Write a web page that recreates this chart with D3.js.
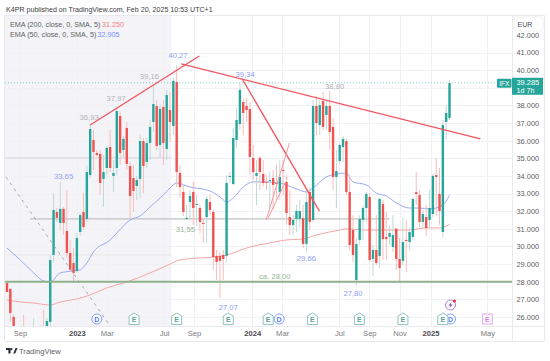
<!DOCTYPE html>
<html><head><meta charset="utf-8">
<script src="https://cdn.jsdelivr.net/npm/d3@7/dist/d3.min.js"></script>
<style>
html,body{margin:0;padding:0;background:#fff;overflow:hidden}
svg{display:block}
text{font-family:"Liberation Sans",Roboto,Arial,sans-serif}
</style></head><body>
<svg id="c" width="550" height="361"></svg>
<script>
// ----- weekly candles (EUR)
const opens=[27.93,27.59,26.0,24.8,24.2,25.0,24.4,24.0,24.0,24.5,24.2,25.1,24.98,25.72,29.52,31.96,31.33,32.13,30.88,29.63,
29.06,28.61,30.82,31.96,31.56,34.05,36.04,35.30,35.25,33.83,34.45,35.64,34.0,34.45,37.40,35.47,36.72,34.56,33.88,33.43,
33.83,35.98,34.79,35.87,37.06,37.97,35.76,37.91,35.53,37.74,36.83,39.33,34.17,33.09,31.55,32.52,33.09,32.35,32.18,31.33,
31.67,32.52,31.96,29.46,29.46,29.52,29.46,33.94,33.54,36.04,36.95,38.19,37.97,37.80,35.02,34.0,35.02,34.11,33.66,33.71,
33.88,33.60,33.09,34.34,33.66,31.67,31.22,31.56,31.56,31.61,30.14,33.09,31.50,37.97,36.89,38.25,37.46,37.97,36.78,33.94,
34.85,35.64,35.98,33.09,30.93,28.10,30.37,31.50,32.18,32.81,29.29,29.80,29.46,32.41,30.54,30.54,29.97,31.01,29.29,29.18,
30.37,30.25,30.54,33.09,32.92,31.39,31.67,31.50,31.84,34.05,32.98,30.82,37.06,37.29];
const highs=[28.04,27.65,26.17,25.2,25.0,26.11,25.1,25.2,25.94,25.0,25.55,26.40,25.9,29.52,33.03,32.18,33.65,32.24,33.20,30.37,
29.91,30.76,31.90,33.03,34.62,36.93,36.61,35.47,35.47,35.19,35.70,36.61,34.90,37.97,37.63,36.27,37.06,34.79,34.62,34.0,
36.38,36.15,36.15,37.17,39.16,38.31,38.08,38.31,38.88,38.76,39.56,40.27,34.62,33.49,32.35,33.20,33.66,32.92,32.35,31.61,
32.86,32.92,32.07,29.80,29.69,29.80,34.05,34.22,36.72,37.85,39.34,38.42,38.42,38.19,35.76,34.90,35.13,34.90,34.05,34.22,
34.34,34.62,34.90,34.90,34.05,33.20,31.78,32.35,32.64,32.35,33.20,33.32,38.31,38.53,38.31,38.76,38.31,38.80,37.29,35.47,
35.87,36.27,36.15,34.05,31.78,30.48,31.78,32.35,33.09,33.03,30.08,31.78,32.75,32.64,31.96,31.22,31.78,31.05,30.48,31.61,
31.50,31.05,32.81,34.22,33.20,32.07,32.35,33.20,34.11,35.02,34.45,37.17,38.02,39.44];
const lows=[27.42,25.72,24.70,23.8,23.9,24.2,23.7,23.6,23.8,23.9,23.9,24.4,24.8,25.26,29.12,31.39,30.93,30.65,29.35,28.55,
27.93,28.50,30.59,30.93,31.39,33.88,34.34,35.13,32.92,32.24,34.05,34.22,33.09,34.05,34.62,35.02,34.34,31.61,31.96,32.64,
32.75,33.03,34.45,34.90,36.49,35.47,35.02,34.62,34.90,35.93,36.32,33.37,32.75,31.73,31.55,31.61,31.22,31.16,30.76,30.20,
30.20,31.78,28.67,28.10,27.07,28.10,29.12,33.60,33.49,35.59,36.61,36.32,37.06,34.05,33.77,32.35,33.20,33.43,33.20,32.18,
32.07,32.64,32.64,32.92,31.22,30.65,30.65,30.82,31.05,29.91,29.66,30.93,31.39,36.32,36.32,36.61,36.61,35.47,33.20,32.18,
34.62,34.79,32.92,29.80,29.12,27.80,30.08,30.37,31.39,29.12,28.33,28.95,28.78,29.23,29.23,30.08,29.69,28.67,28.04,28.95,
28.55,29.80,30.37,32.35,31.10,31.05,30.59,31.05,31.67,31.73,31.22,30.54,36.04,37.17];
const closes=[27.42,26.23,25.26,24.2,24.6,24.4,24.0,24.4,24.5,24.1,24.8,24.6,25.77,29.23,32.07,31.62,32.13,31.33,29.63,28.67,
28.50,30.48,31.78,31.10,34.22,36.66,35.36,35.19,33.60,34.22,35.59,34.45,34.17,37.68,35.30,36.10,34.68,32.86,33.15,33.77,
35.98,34.56,35.87,36.78,38.08,35.70,37.80,35.87,38.59,37.06,39.39,34.22,33.37,31.96,31.62,32.86,32.18,32.41,31.39,31.27,
32.69,32.07,29.40,29.12,29.18,29.29,33.60,34.0,36.15,37.17,38.88,37.57,37.74,35.08,34.22,34.17,34.22,33.60,33.60,33.77,
33.49,33.54,33.94,34.28,31.90,31.22,31.50,32.01,32.01,30.14,32.52,31.39,37.97,37.0,38.02,36.78,37.97,36.49,33.94,34.28,
35.76,36.10,33.09,30.08,29.52,30.14,31.56,32.18,32.98,29.23,29.80,29.06,32.69,30.42,30.42,30.76,30.65,29.29,28.78,30.25,
30.31,30.82,32.69,32.98,31.39,31.84,31.05,32.18,34.0,33.94,32.01,36.89,37.57,39.27];

// ----- moving averages: values read at these bars
const ema50Bars=[0,4,8,11,13,16,20,22,24,26,31,33,37,40,43,47,49,51,55,61,64,66,68,71,74,77,82,87,90,92,96,99,102,104,108,111,114,117,121,124,127,131,133];
const ema50Vals=[29.91,29.23,28.50,28.04,27.98,28.50,28.61,28.67,29.06,29.69,30.37,30.76,31.50,31.73,32.24,32.92,33.32,33.60,33.37,33.15,32.81,32.52,32.75,33.37,33.66,33.66,33.60,33.26,33.09,33.32,33.94,34.11,34.17,33.66,33.49,33.03,32.86,32.47,32.18,32.18,32.13,32.35,32.91];
const ema200Bars=[0,4,8,13,16,21,25,30,36,43,49,51,54,62,66,73,79,84,89,93,100,102,107,115,121,126,130,133];
const ema200Vals=[26.96,26.85,26.79,26.68,26.85,27.02,27.25,27.65,27.98,28.50,29.0,29.18,29.29,29.40,29.52,29.97,30.20,30.37,30.42,30.65,30.93,31.0,30.93,30.93,30.93,31.05,31.05,31.25];

// ----- axes
const priceTicks=[42,41,40,39,38,37,36,35,34,33,32,31,30,29,28,27,26];
const hiddenPriceLabel=39; // covered by the last-price tag
const timeBars=[3.9,21,30,47.2,56.2,73.7,82.7,99.9,108.9,118,127.3,144.4];
const timeLabels=["Sep","2023","Mar","Jul","Sep","2024","Mar","Jul","Sep","Nov","2025","May"];
const boldLabels=["2023","2024","2025"];

// ----- drawings: [bar1, price1, bar2, price2]
const redLines=[[25,36.89,57.8,40.80],[52.4,40.35,142.3,36.10],[70.7,39.50,93.9,32.0]];
const paleLines=[[77.9,31.50,84.9,35.87],[78.5,31.61,83.7,33.66]];
const dashLine=[-0.3,33.94,31,25.49];
// horizontal levels: [price, bar1, bar2]
const grayLevels=[[35.02,-0.6,49.4],[29.52,-0.6,49.4]];
const supportLevel=[31.56,6.9,115];
const greenLevel=[28.0,-0.6,149];
const lastPrice=39.285;

// ----- notes: [text, bar, price, kind]
const notes=[["36,93",24.7,37.34,"g"],["37,97",32.8,38.42,"g"],["39,16",42.8,39.67,"g"],["40,27",51.4,40.86,"b"],["33,65",17,34.0,"b"],
["39,34",71.6,39.78,"b"],["38,80",98.5,39.1,"g"],["31,55",53.6,31.0,"v"],["29,66",90,29.35,"b"],["27,07",66.5,26.57,"b"],["27,80",104,27.36,"b"],["ca. 28,00",80.5,28.3,"v"]];

// ----- events on the time axis
const earningsBars=[38.2,51,66.5,78.5,91.8,105.9,119,131];
const dividendBars=[27,81.8,133.3];
const futureEarningsBar=144.4;
const flashBar=133.3;

// ----- header texts
const headerText="K4PR published on TradingView.com, Feb 20, 2025 10:53 UTC+1";
const legendRows=[["EMA (200, close, 0, SMA, 5)","31.250","#f77c80",102],["EMA (50, close, 0, SMA, 5)","32.905","#6f8cff",97.5]];

const up="#26a69a",down="#f0524f",upW="#bcdcd6",downW="#f8bcba";
const svg=d3.select("#c");
const x=d3.scaleLinear().domain([0,133]).range([7,449.5]);
const y=d3.scaleLinear().domain([28,42]).range([281.7,34.9]);
const L=5,R=512,T=15,B=326,RE=544,BE=341;
const defs=svg.append("defs");
defs.append("clipPath").attr("id","plot").append("rect").attr("x",L).attr("y",T).attr("width",R-L).attr("height",B-T);

// session shading
svg.append("rect").attr("x",L).attr("y",T).attr("width",x(49.4)-L).attr("height",B-T).attr("fill","#f4f4f8");

// grid
const grid=svg.append("g").attr("stroke","#f0f1f5").attr("stroke-width",1);
priceTicks.filter(p=>p<=41).forEach(p=>grid.append("line").attr("x1",L).attr("x2",R).attr("y1",Math.round(y(p))+.5).attr("y2",Math.round(y(p))+.5));
grid.selectAll("line.v").data(timeBars).join("line").attr("class","v").attr("x1",d=>Math.round(x(d))+.5).attr("x2",d=>Math.round(x(d))+.5).attr("y1",T).attr("y2",B);

// frame
const frame=svg.append("g").attr("stroke","#e9eaee").attr("fill","none");
frame.append("line").attr("x1",L).attr("x2",RE).attr("y1",B+.5).attr("y2",B+.5);
frame.append("line").attr("x1",L).attr("x2",RE).attr("y1",BE+.5).attr("y2",BE+.5);
frame.append("line").attr("x1",L).attr("x2",RE).attr("y1",T+.5).attr("y2",T+.5);
frame.append("line").attr("x1",R+.5).attr("x2",R+.5).attr("y1",T).attr("y2",BE);
frame.append("line").attr("x1",RE+.5).attr("x2",RE+.5).attr("y1",T).attr("y2",BE);
frame.append("line").attr("x1",L-.5).attr("x2",L-.5).attr("y1",T).attr("y2",BE);

const plot=svg.append("g").attr("clip-path","url(#plot)");

// levels
plot.append("line").attr("x1",L).attr("x2",R).attr("y1",y(lastPrice)).attr("y2",y(lastPrice)).attr("stroke",up).attr("stroke-opacity",.55).attr("stroke-dasharray","1 2");
grayLevels.forEach((d,i)=>plot.append("line").attr("x1",x(d[1])).attr("x2",x(d[2])).attr("y1",y(d[0])).attr("y2",y(d[0])).attr("stroke",i?"#e6e6ea":"#d4d4d8"));
plot.append("line").attr("x1",x(supportLevel[1])).attr("x2",x(supportLevel[2])).attr("y1",y(supportLevel[0])).attr("y2",y(supportLevel[0])).attr("stroke","#c2c2c2").attr("stroke-width",1.2);

// EMAs
const line=d3.line().curve(d3.curveMonotoneX).x(d=>x(d[0])).y(d=>y(d[1]));
plot.append("path").attr("d",line(d3.zip(ema200Bars,ema200Vals))).attr("fill","none").attr("stroke","#f5a7a6").attr("stroke-width",1);
plot.append("path").attr("d",line(d3.zip(ema50Bars,ema50Vals))).attr("fill","none").attr("stroke","#9aaaf4").attr("stroke-width",1);

// candles
const bars=opens.map((o,i)=>({i,o,h:highs[i],l:lows[i],c:closes[i]}));
plot.selectAll("line.w").data(bars).join("line").attr("class","w")
 .attr("x1",d=>x(d.i)).attr("x2",d=>x(d.i)).attr("y1",d=>y(d.h)).attr("y2",d=>y(d.l))
 .attr("stroke",d=>d.c>=d.o?upW:downW).attr("stroke-width",1);
plot.selectAll("rect.b").data(bars).join("rect").attr("class","b")
 .attr("x",d=>x(d.i)-1.2).attr("width",2.4)
 .attr("y",d=>y(Math.max(d.o,d.c))).attr("height",d=>Math.max(1,Math.abs(y(d.o)-y(d.c))))
 .attr("fill",d=>d.c>=d.o?up:down);

// support at 28
plot.append("line").attr("x1",x(greenLevel[1])).attr("x2",R).attr("y1",y(greenLevel[0])).attr("y2",y(greenLevel[0])).attr("stroke","#8fb18c").attr("stroke-width",2);

// drawings
plot.append("line").attr("x1",x(dashLine[0])).attr("y1",y(dashLine[1])).attr("x2",x(dashLine[2])).attr("y2",y(dashLine[3])).attr("stroke","#a8a8ac").attr("stroke-dasharray","3 4");
redLines.forEach(d=>plot.append("line").attr("x1",x(d[0])).attr("y1",y(d[1])).attr("x2",x(d[2])).attr("y2",y(d[3])).attr("stroke","#f2555f").attr("stroke-width",1.3));
paleLines.forEach(d=>plot.append("line").attr("x1",x(d[0])).attr("y1",y(d[1])).attr("x2",x(d[2])).attr("y2",y(d[3])).attr("stroke","#f79a9f").attr("stroke-width",1));

// notes
const noteCol={g:"#b2b2b6",b:"#8fa0f5",v:"#93b591"};
svg.selectAll("text.n").data(notes).join("text").attr("class","n")
 .attr("x",d=>x(d[1])).attr("y",d=>y(d[2])+3).attr("text-anchor","middle")
 .attr("font-size",7.7).attr("fill",d=>noteCol[d[3]]).text(d=>d[0]);

// events
const ev=svg.append("g");
const yEv=319;
function drawD(b){
 const g=ev.append("g").attr("transform",`translate(${x(b)},${yEv})`);
 g.append("circle").attr("r",5).attr("fill","#fff").attr("stroke","#7f9cff").attr("stroke-width",1);
 g.append("text").attr("y",2.6).attr("text-anchor","middle").attr("font-size",7).attr("font-weight","bold").attr("fill","#5b7cf5").text("D");
}
function drawE(b){
 const g=ev.append("g").attr("transform",`translate(${x(b)},${yEv})`);
 g.append("path").attr("d","M-5,-3 L0,-6 L5,-3 L5,5.5 L-5,5.5 Z").attr("fill","#fff").attr("stroke","#8fc4b8").attr("stroke-width",1);
 g.append("text").attr("y",3).attr("text-anchor","middle").attr("font-size",7).attr("font-weight","bold").attr("fill","#5aa596").text("E");
}
dividendBars.forEach(drawD);
earningsBars.forEach(drawE);
const fe=ev.append("g").attr("transform",`translate(${x(futureEarningsBar)},${yEv})`);
fe.append("rect").attr("x",-4.8).attr("y",-5).attr("width",9.6).attr("height",10).attr("fill","#fff").attr("stroke","#e9a2f2").attr("stroke-width",1);
fe.append("text").attr("y",2.6).attr("text-anchor","middle").attr("font-size",7).attr("font-weight","bold").attr("fill","#d77fe6").text("E");
const fl=ev.append("g").attr("transform",`translate(${x(flashBar)},305)`);
fl.append("circle").attr("r",5).attr("fill","#fff").attr("stroke","#b37fd4").attr("stroke-width",1);
fl.append("path").attr("d","M1,-3 L-2,0.5 L-0.2,0.5 L-1,3 L2,-0.5 L0.2,-0.5 Z").attr("fill","#8e44ad");
fl.append("circle").attr("cx",4).attr("cy",-4).attr("r",1.6).attr("fill","#f0323c");

// price axis
const ya=d3.axisRight(y).tickValues(priceTicks.filter(p=>p!==hiddenPriceLabel)).tickSize(0).tickPadding(0).tickFormat(d3.format(".3f"));
const yg=svg.append("g").attr("transform",`translate(516.5,0)`).call(ya);
yg.select(".domain").remove();
yg.selectAll("text").attr("font-size",7.4).attr("fill","#5e5e62");

// time axis
const xa=d3.axisBottom(x).tickValues(timeBars).tickSize(0).tickPadding(0).tickFormat((d,i)=>timeLabels[i]);
const xg=svg.append("g").attr("transform",`translate(0,331)`).call(xa);
xg.select(".domain").remove();
xg.selectAll("text").attr("font-size",7.6).attr("fill",(d,i)=>boldLabels.includes(timeLabels[i])?"#4a4a4e":"#7a7a7e")
  .attr("font-weight",(d,i)=>boldLabels.includes(timeLabels[i])?"bold":"normal");

// EUR box
svg.append("rect").attr("x",514).attr("y",17).attr("width",29).attr("height",14).attr("rx",2).attr("fill","#fff").attr("stroke","#f1f1f4");
svg.append("text").attr("x",525).attr("y",26.5).attr("text-anchor","middle").attr("font-size",7).attr("fill","#4a4a4e").text("EUR");

// price tag
const yLast=y(lastPrice);
svg.append("rect").attr("x",512).attr("y",yLast-5).attr("width",31).attr("height",17).attr("fill",up);
svg.append("text").attr("x",516.5).attr("y",yLast+2.5).attr("font-size",7.4).attr("fill","#fff").text(d3.format(".3f")(lastPrice));
svg.append("text").attr("x",516.5).attr("y",yLast+10.5).attr("font-size",7.2).attr("fill","#fff").text("1d 7h");
svg.append("rect").attr("x",497).attr("y",yLast-4).attr("width",14.5).attr("height",9).attr("rx",1).attr("fill",up);
svg.append("text").attr("x",504.3).attr("y",yLast+3).attr("text-anchor","middle").attr("font-size",6.6).attr("fill","#fff").text("IFX");

// header + legend
svg.append("text").attr("x",6).attr("y",12).attr("font-size",7.1).attr("fill","#3c3c40").text(headerText);
legendRows.forEach((r,i)=>{
 const yy=27+i*9.6;
 svg.append("text").attr("x",10).attr("y",yy).attr("font-size",7.2).attr("fill","#5e5e62").text(r[0]);
 svg.append("text").attr("x",r[3]).attr("y",yy).attr("font-size",7.2).attr("fill",r[2]).text(r[1]);
});

// footer logo
const lg=svg.append("g").attr("transform","translate(6,348)").attr("fill","#2a2e39");
lg.append("path").attr("d","M0,0 H4.6 V5.6 H2.4 V2 H0 Z M5.4,0 A1,1 0 1 0 5.41,0 Z M7.2,5.6 L9.6,0 H11.6 L9.2,5.6 Z");
svg.append("text").attr("x",19).attr("y",353.5).attr("font-size",7.6).attr("fill","#5e5e62").text("TradingView");
</script>
</body></html>
